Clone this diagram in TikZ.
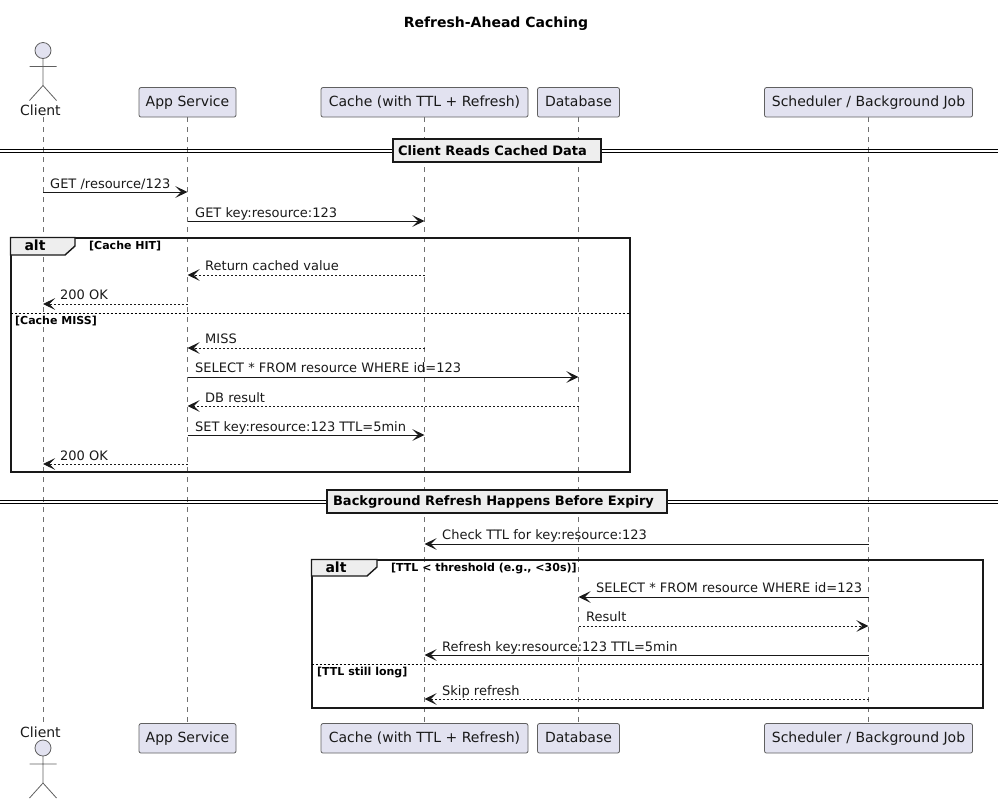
\documentclass[tikz,border=0pt]{standalone}
\usepackage{fontspec}
\setmainfont{DejaVu Sans}
\usetikzlibrary{arrows.meta}
\usetikzlibrary{positioning}
\definecolor{partfill}{HTML}{E2E2F0}
\definecolor{partline}{HTML}{606060}
\definecolor{lifegrey}{HTML}{707070}
\definecolor{tabfill}{HTML}{EEEEEE}
\tikzset{
  part/.style={draw=partline, fill=partfill, rounded corners=2pt, line width=0.8pt,
    minimum height=29.5pt, inner sep=0pt, text height=10.5pt, text depth=3pt,
    font=\fontsize{14}{16}\selectfont, text=black!90},
  lifeline/.style={draw=lifegrey, line width=0.6pt, dash pattern=on 5pt off 5pt},
  call/.style={draw=black!90, line width=0.9pt, -{Stealth[length=12pt,width=11.5pt,inset=5.5pt]}},
  reply/.style={call, dash pattern=on 2pt off 2pt},
  msglabel/.style={anchor=base west, inner sep=0pt, font=\fontsize{13}{15}\selectfont, text=black!90},
  actorlabel/.style={anchor=base west, inner sep=0pt, font=\fontsize{14}{16}\selectfont, text=black!90},
  guard/.style={anchor=base west, inner sep=0pt, font=\fontsize{11}{13}\selectfont\bfseries},
  altframe/.style={draw=black!90, line width=2pt},
  alttab/.style={draw=black!90, line width=1.4pt, fill=tabfill},
  altname/.style={inner sep=0pt, font=\fontsize{14}{16}\selectfont\bfseries},
  altelse/.style={draw=black, line width=0.8pt, dash pattern=on 2pt off 2pt},
  divider/.style={draw=black!90, line width=2pt, fill=tabfill, inner sep=0pt, minimum height=23pt,
    font=\fontsize{13}{15}\selectfont\bfseries},
  dividerline/.style={draw=black, line width=1pt},
  actorman/.pic={
    \draw[draw=partline, fill=partfill, line width=0.8pt] (0,8) circle (8pt);
    \draw[draw=partline, line width=0.8pt] (0,16) -- (0,43) (-13.5,24) -- (13.5,24)
      (-13.5,58) -- (0,43) -- (13.5,58);
  },
}
\begin{document}
\begin{tikzpicture}[x=1pt, y=-1pt]
  \useasboundingbox (0,0) rectangle (998,804);

  % Title
  \node[font=\fontsize{14}{16}\selectfont\bfseries, inner sep=0pt] (title) at (496,23.5) {Refresh-Ahead Caching};

  % Participants, top row
  \pic at (43,42.5) {actorman};
  \coordinate (client) at (43,117);
  \node[actorlabel] (clientname) at (20,115) {Client};
  \node[part, minimum width=97pt] (app) at (187.5,102.3) {App Service};
  \node[part, minimum width=207pt] (cache) at (424.5,102.3) {Cache (with TTL + Refresh)};
  \node[part, minimum width=82pt] (db) at (578.5,102.3) {Database};
  \node[part, minimum width=208pt] (sched) at (868.5,102.3) {Scheduler / Background Job};

  % Participants, bottom row
  \pic at (43,740) {actorman};
  \coordinate (clientb) at (43,723.5);
  \node[actorlabel] (clientnameb) at (20,737) {Client};
  \node[part, minimum width=97pt] (appb) at (187.5,738.3) {App Service};
  \node[part, minimum width=207pt] (cacheb) at (424.5,738.3) {Cache (with TTL + Refresh)};
  \node[part, minimum width=82pt] (dbb) at (578.5,738.3) {Database};
  \node[part, minimum width=208pt] (schedb) at (868.5,738.3) {Scheduler / Background Job};

  % Lifelines
  \draw[lifeline] (client) -- (clientb);
  \draw[lifeline] (app) -- (appb);
  \draw[lifeline] (cache) -- (cacheb);
  \draw[lifeline] (db) -- (dbb);
  \draw[lifeline] (sched) -- (schedb);

  % First divider
  \draw[dividerline] (0,149.5) -- (998,149.5) (0,152.5) -- (998,152.5);
  \node[divider, minimum width=208pt] (div1) at (496.5,150.5) {Client Reads Cached Data\kern8pt};

  % Messages
  \draw[call] (client |- 0,192) -- (app |- 0,192);
  \node[msglabel] (m1) at (50,188) {GET /resource/123};
  \draw[call] (app |- 0,221) -- (cache |- 0,221);
  \node[msglabel] (m2) at (195,217) {GET key:resource:123};

  % First alt
  \draw[altframe] (10.5,237.5) rectangle (629.5,472);
  \draw[alttab] (10.5,237.5) -- (75,237.5) -- (75,246) -- (65,255) -- (10.5,255) -- cycle;
  \node[altname] (alt1) at (35,245.5) {alt};
  \node[guard] (g1) at (89,249) {[Cache HIT]};
  \draw[call, reply] (cache |- 0,275) -- (app |- 0,275);
  \node[msglabel] (m3) at (205,270) {Return cached value};
  \draw[call, reply] (app |- 0,304) -- (client |- 0,304);
  \node[msglabel] (m4) at (60,299) {200 OK};
  \draw[altelse] (10.5,313.5) -- (629.5,313.5);
  \node[guard] (g2) at (15,324) {[Cache MISS]};
  \draw[call, reply] (cache |- 0,348) -- (app |- 0,348);
  \node[msglabel] (m5) at (205,343) {MISS};
  \draw[call] (app |- 0,377) -- (db |- 0,377);
  \node[msglabel] (m6) at (195,372) {SELECT * FROM resource WHERE id=123};
  \draw[call, reply] (db |- 0,406) -- (app |- 0,406);
  \node[msglabel] (m7) at (205,402) {DB result};
  \draw[call] (app |- 0,435) -- (cache |- 0,435);
  \node[msglabel] (m8) at (195,431) {SET key:resource:123 TTL=5min};
  \draw[call, reply] (app |- 0,464) -- (client |- 0,464);
  \node[msglabel] (m9) at (60,460) {200 OK};

  % Second divider
  \draw[dividerline] (0,500) -- (998,500) (0,503) -- (998,503);
  \node[divider, minimum width=340pt] (div2) at (496.5,501.5) {Background Refresh Happens Before Expiry\kern6pt};

  \draw[call] (sched |- 0,544) -- (cache |- 0,544);
  \node[msglabel] (m10) at (442,539) {Check TTL for key:resource:123};

  % Second alt
  \draw[altframe] (311.5,559.5) rectangle (983,707.5);
  \draw[alttab] (311.5,559.5) -- (377,559.5) -- (377,567) -- (367,576) -- (311.5,576) -- cycle;
  \node[altname] (alt2) at (336,567.5) {alt};
  \node[guard] (g3) at (391,571) {[TTL < threshold (e.g., <30s)]};
  \draw[call] (sched |- 0,597) -- (db |- 0,597);
  \node[msglabel] (m11) at (596,592) {SELECT * FROM resource WHERE id=123};
  \draw[call, reply] (db |- 0,626) -- (sched |- 0,626);
  \node[msglabel] (m12) at (586,621) {Result};
  \draw[call] (sched |- 0,655) -- (cache |- 0,655);
  \node[msglabel] (m13) at (442,651) {Refresh key:resource:123 TTL=5min};
  \draw[altelse] (311.5,664) -- (983,664);
  \node[guard] (g4) at (317,675) {[TTL still long]};
  \draw[call, reply] (sched |- 0,699) -- (cache |- 0,699);
  \node[msglabel] (m14) at (442,695) {Skip refresh};

\end{tikzpicture}
\end{document}
